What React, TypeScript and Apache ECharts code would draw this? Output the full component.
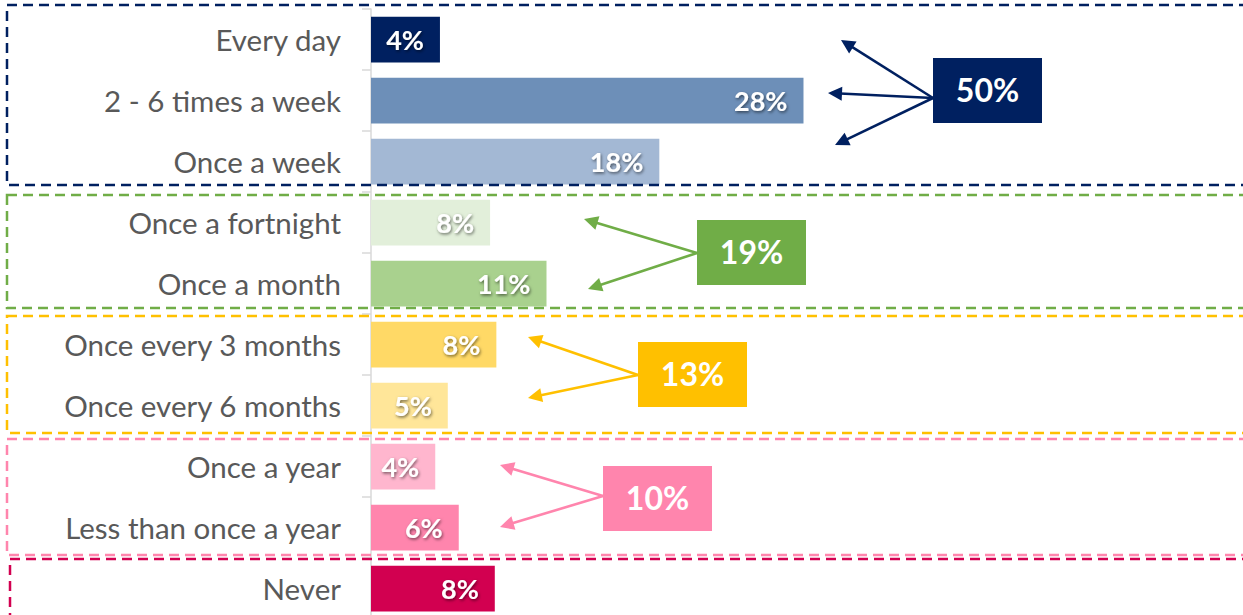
import React, { useEffect, useRef } from "react";
import * as echarts from "echarts";

const categories = [
  "Every day",
  "2 - 6 times a week",
  "Once a week",
  "Once a fortnight",
  "Once a month",
  "Once every 3 months",
  "Once every 6 months",
  "Once a year",
  "Less than once a year",
  "Never",
];
const values = [4.4, 27.6, 18.4, 7.6, 11.2, 8.0, 4.9, 4.1, 5.6, 7.9];
const barColors = [
  "#002060", "#6d8fb8", "#a3b8d4",
  "#e2efda", "#a9d18e",
  "#ffd966", "#ffe699",
  "#ffb6ce", "#ff85ad",
  "#d20050",
];
const groupLabels = ["50%", "19%", "13%", "10%"];
const groupColors = ["#002060", "#70ad47", "#ffc000", "#ff85ad", "#d20050"];

type Pt = [number, number];

function arrow(from: Pt, to: Pt, color: string): any[] {
  const dx = to[0] - from[0];
  const dy = to[1] - from[1];
  const len = Math.sqrt(dx * dx + dy * dy);
  const ux = dx / len;
  const uy = dy / len;
  const hl = 14;
  const hw = 7;
  const bx = to[0] - ux * hl;
  const by = to[1] - uy * hl;
  const px = -uy;
  const py = ux;
  return [
    {
      type: "line",
      shape: { x1: from[0], y1: from[1], x2: bx + ux * 2, y2: by + uy * 2 },
      style: { stroke: color, lineWidth: 2.6 },
      z: 10,
    },
    {
      type: "polygon",
      shape: {
        points: [
          [to[0], to[1]],
          [bx + px * hw, by + py * hw],
          [bx - px * hw, by - py * hw],
        ],
      },
      style: { fill: color },
      z: 10,
    },
  ];
}

function dashedBox(x: number, y: number, w: number, h: number, color: string): any {
  return {
    type: "rect",
    shape: { x, y, width: w, height: h },
    style: { fill: "none", stroke: color, lineWidth: 2.5, lineDash: [10, 6] },
    z: 5,
    silent: true,
  };
}

function totalBox(x: number, y: number, w: number, h: number, color: string, text: string): any[] {
  return [
    {
      type: "rect",
      shape: { x, y, width: w, height: h },
      style: { fill: color },
      z: 10,
    },
    {
      type: "text",
      x: x + w / 2,
      y: y + h / 2 - 1,
      style: {
        text,
        fill: "#ffffff",
        font: "bold 32px Lato",
        align: "center",
        verticalAlign: "middle",
      },
      z: 11,
    },
  ];
}

export default function App() {
  const ref = useRef<HTMLDivElement>(null);
  useEffect(() => {
    if (!ref.current) return;
    const chart = echarts.init(ref.current, undefined, { renderer: "svg" });
    const graphic: any[] = [
      dashedBox(7, 5, 1300, 180, groupColors[0]),
      dashedBox(7, 195, 1300, 113, groupColors[1]),
      dashedBox(7, 316, 1300, 117, groupColors[2]),
      dashedBox(7, 439, 1300, 116, groupColors[3]),
      dashedBox(10, 559, 1300, 100, groupColors[4]),
      ...totalBox(933, 58, 109, 65, groupColors[0], groupLabels[0]),
      ...arrow([933, 98], [841, 40], groupColors[0]),
      ...arrow([933, 98], [828, 93], groupColors[0]),
      ...arrow([933, 98], [835, 145], groupColors[0]),
      ...totalBox(697, 220, 109, 65, groupColors[1], groupLabels[1]),
      ...arrow([697, 253], [584, 219], groupColors[1]),
      ...arrow([697, 253], [588, 289], groupColors[1]),
      ...totalBox(638, 342, 109, 65, groupColors[2], groupLabels[2]),
      ...arrow([638, 375], [528, 337], groupColors[2]),
      ...arrow([638, 375], [528, 398], groupColors[2]),
      ...totalBox(603, 466, 109, 65, groupColors[3], groupLabels[3]),
      ...arrow([603, 496], [500, 465], groupColors[3]),
      ...arrow([603, 496], [500, 527], groupColors[3]),
    ];
    chart.setOption({
      animation: false,
      grid: { left: 371, top: 9, bottom: -4, width: 783.5, outerBoundsMode: "none", containLabel: false },
      xAxis: {
        type: "value",
        min: 0,
        max: 50,
        show: false,
      },
      yAxis: {
        type: "category",
        inverse: true,
        data: categories,
        axisLine: { show: true, lineStyle: { color: "#d9d9d9", width: 1.5 } },
        axisTick: { show: true, length: 9, lineStyle: { color: "#d9d9d9", width: 1.5 } },
        axisLabel: {
          margin: 30,
          color: "#595959",
          fontFamily: "Lato",
          fontSize: 29.5,
          lineHeight: 30,
          padding: [0, 0, 8, 0],
        },
        splitLine: { show: false },
      },
      series: [
        {
          type: "bar",
          barCategoryGap: "25%",
          data: values.map((v, i) => ({ value: v, itemStyle: { color: barColors[i] } })),
          label: {
            show: true,
            position: "insideRight",
            distance: 16,
            formatter: (p: any) => Math.round(p.value) + "%",
            color: "#ffffff",
            fontFamily: "Lato",
            fontWeight: "bold",
            fontSize: 27,
            lineHeight: 28,
            padding: [0, 0, 3, 0],
            textShadowColor: "rgba(0,0,0,0.55)",
            textShadowBlur: 3,
            textShadowOffsetX: 1,
            textShadowOffsetY: 1.5,
          },
          z: 3,
        },
      ],
      graphic,
    });
    return () => chart.dispose();
  }, []);
  return (
    <div
      ref={ref}
      style={{ position: "fixed", left: 0, top: 0, width: 1243, height: 615, background: "#ffffff" }}
    />
  );
}
